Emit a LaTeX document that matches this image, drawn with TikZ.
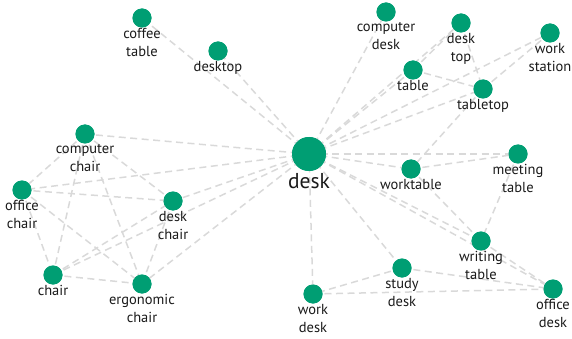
\documentclass[tikz,border=0pt]{standalone}
\usepackage{fontspec}
\setmainfont{PT Sans}
\definecolor{nodegreen}{HTML}{009E73}
\definecolor{edgegray}{HTML}{D9D9D9}
\definecolor{txt}{HTML}{1A1A1A}
\begin{document}
\begin{tikzpicture}[x=1pt,y=-1pt,
  dot/.style={circle,fill=nodegreen,draw=none,minimum size=19pt,inner sep=0pt},
  bigdot/.style={circle,fill=nodegreen,draw=none,minimum size=34pt,inner sep=0pt},
  lbl/.style={anchor=north,align=center,text=txt,inner sep=0pt,yshift=-0.5pt,font=\fontsize{14.5}{18}\selectfont},
  biglbl/.style={anchor=north,align=center,text=txt,inner sep=0pt,yshift=-2pt,font=\fontsize{21.5}{23}\selectfont},
  edge/.style={draw=edgegray,line width=1.5pt,dash pattern=on 7pt off 4.5pt}]
\useasboundingbox (0,0) rectangle (572,339);
\node[bigdot] (desk) at (309,154) {};
\node[dot] (ct) at (142,18) {};
\node[dot] (dtp) at (218,51) {};
\node[dot] (cd) at (386,12) {};
\node[dot] (dt) at (461,23) {};
\node[dot] (ws) at (550,33) {};
\node[dot] (tb) at (413,70) {};
\node[dot] (tt) at (483,89) {};
\node[dot] (cc) at (85,134) {};
\node[dot] (oc) at (22,190) {};
\node[dot] (dc) at (173,201) {};
\node[dot] (ch) at (53,275) {};
\node[dot] (ec) at (142,284) {};
\node[dot] (wt) at (411,169) {};
\node[dot] (mt) at (518,154) {};
\node[dot] (wrt) at (481,241) {};
\node[dot] (sd) at (402,268) {};
\node[dot] (wd) at (313,294) {};
\node[dot] (od) at (553,289) {};
\foreach \a/\b in {desk/ct,desk/dtp,desk/cd,desk/dt,desk/ws,desk/tb,desk/tt,desk/cc,desk/oc,desk/dc,desk/ch,desk/ec,desk/wt,desk/mt,desk/wrt,desk/od,desk/sd,desk/wd,
  tb/dt,tb/tt,dt/tt,ws/tt,tt/wt,wt/mt,wt/wrt,mt/wrt,wrt/od,sd/wd,sd/od,wd/od,
  cc/oc,cc/dc,cc/ch,cc/ec,oc/dc,oc/ch,oc/ec,ch/dc,ch/ec,dc/ec}
  {\path[edge] (\a.center) -- (\b.center);}
\node[bigdot] at (desk) {};
\foreach \n in {ct,dtp,cd,dt,ws,tb,tt,cc,oc,dc,ch,ec,wt,mt,wrt,sd,wd,od}
  {\node[dot] at (\n) {};}
\node[biglbl] (desk-l) at (desk.south) {desk};
\node[lbl] (ct-l) at (ct.south) {coffee\\table};
\node[lbl] (dtp-l) at (dtp.south) {desktop};
\node[lbl] (cd-l) at (cd.south) {computer\\desk};
\node[lbl] (dt-l) at (dt.south) {desk\\top};
\node[lbl] (ws-l) at (ws.south) {work\\station};
\node[lbl] (tb-l) at (tb.south) {table};
\node[lbl] (tt-l) at (tt.south) {tabletop};
\node[lbl] (cc-l) at (cc.south) {computer\\chair};
\node[lbl] (oc-l) at (oc.south) {office\\chair};
\node[lbl] (dc-l) at (dc.south) {desk\\chair};
\node[lbl] (ch-l) at (ch.south) {chair};
\node[lbl] (ec-l) at (ec.south) {ergonomic\\chair};
\node[lbl] (wt-l) at (wt.south) {worktable};
\node[lbl] (mt-l) at (mt.south) {meeting\\table};
\node[lbl] (wrt-l) at (wrt.south) {writing\\table};
\node[lbl] (sd-l) at (sd.south) {study\\desk};
\node[lbl] (wd-l) at (wd.south) {work\\desk};
\node[lbl] (od-l) at (od.south) {office\\desk};
\end{tikzpicture}
\end{document}
